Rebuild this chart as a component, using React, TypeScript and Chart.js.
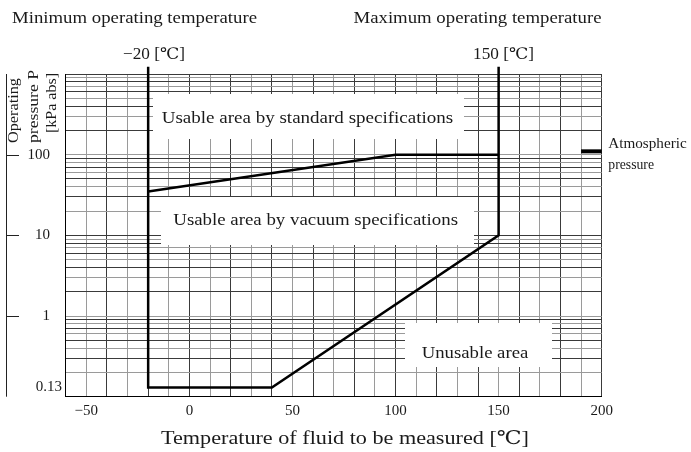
import React, { useEffect, useRef } from 'react';
import { Chart, registerables } from 'chart.js';

Chart.register(...registerables);

// ---- data ----
const xMin = -60;
const xMax = 200;
const xGridStep = 10;
const xTickLabels = [-50, 0, 50, 100, 150, 200];

const yMin = 0.1;
const yMax = 1000;
const yGridValues = [
  0.1, 0.2, 0.3, 0.4, 0.5, 0.6, 0.7, 0.8, 0.9,
  1, 2, 3, 4, 5, 6, 7, 8, 9,
  10, 20, 30, 40, 50, 60, 70, 80, 90,
  100, 200, 300, 400, 500, 600, 700, 800, 900,
  1000,
];
const yTickValues = [100, 10, 1, 0.13];
const yTickTexts = ['100', '10', '1', '0.13'];
const yAxisMarks = [100, 10, 1];

// vacuum-spec boundary: -20 line, 0.13 floor, slope to 150 / 10 kPa, 150 line
const vacuumX = [-20, -20, 40, 150, 150];
const vacuumY = [1230, 0.13, 0.13, 10, 1230];
// standard-spec boundary
const standardX = [-20, 100, 150];
const standardY = [35, 100, 100];
// atmospheric pressure marker
const atmX = [190, 200];
const atmY = [110, 110];

const SERIF = '"Liberation Serif", "DejaVu Serif", "Noto Sans CJK JP", serif';
const TEXT_COLOR = '#1a1a1a';

function pts(xs: number[], ys: number[]) {
  return xs.map((x, i) => ({ x, y: ys[i] }));
}

function drawFit(
  ctx: CanvasRenderingContext2D,
  text: string,
  x: number,
  y: number,
  w: number,
  size: number,
  rot = 0,
  center = false
) {
  ctx.save();
  ctx.font = `${size}px ${SERIF}`;
  ctx.fillStyle = TEXT_COLOR;
  ctx.textAlign = 'left';
  ctx.textBaseline = 'alphabetic';
  const m = ctx.measureText(text).width;
  ctx.translate(x, y);
  if (rot) ctx.rotate(rot);
  const sx = w > 0 ? w / m : 1;
  ctx.scale(sx, 1);
  ctx.fillText(text, center ? -m / 2 : 0, 0);
  ctx.restore();
}

const whiteBoxes = [
  { x0: 153, y0: 94, x1: 464, y1: 139 },
  { x0: 161, y0: 197, x1: 474, y1: 245 },
  { x0: 405, y0: 323, x1: 552, y1: 367 },
];

const decorPlugin = {
  id: 'decor',
  beforeDatasetsDraw(chart: any) {
    const ctx = chart.ctx as CanvasRenderingContext2D;
    ctx.save();
    ctx.fillStyle = '#ffffff';
    for (const b of whiteBoxes) ctx.fillRect(b.x0, b.y0, b.x1 - b.x0, b.y1 - b.y0);
    ctx.restore();
  },
  afterDraw(chart: any) {
    const ctx = chart.ctx as CanvasRenderingContext2D;
    const xs = chart.scales.x;
    const ys = chart.scales.y;
    const area = chart.chartArea;

    // left pressure axis line and marks
    ctx.save();
    ctx.strokeStyle = '#222';
    ctx.lineWidth = 1;
    ctx.beginPath();
    ctx.moveTo(6.5, area.top);
    ctx.lineTo(6.5, area.bottom);
    for (const v of yAxisMarks) {
      const py = Math.round(ys.getPixelForValue(v)) + 0.5;
      ctx.moveTo(6.5, py);
      ctx.lineTo(19, py);
    }
    ctx.stroke();
    ctx.restore();

    // y tick labels
    ctx.save();
    ctx.font = `15px ${SERIF}`;
    ctx.fillStyle = TEXT_COLOR;
    ctx.textAlign = 'right';
    ctx.textBaseline = 'middle';
    yTickValues.forEach((v, i) => {
      const py = ys.getPixelForValue(v);
      ctx.fillText(yTickTexts[i], v < 1 ? 62 : 50, py);
    });
    ctx.restore();

    // x tick labels
    ctx.save();
    ctx.font = `15px ${SERIF}`;
    ctx.fillStyle = TEXT_COLOR;
    ctx.textAlign = 'center';
    ctx.textBaseline = 'alphabetic';
    xTickLabels.forEach((v) => {
      const px = xs.getPixelForValue(v);
      const t = v < 0 ? '\u2212' + Math.abs(v) : String(v);
      ctx.fillText(t, px, 415);
    });
    ctx.restore();

    // titles and annotations
    drawFit(ctx, 'Minimum operating temperature', 12, 23, 245, 16);
    drawFit(ctx, 'Maximum operating temperature', 353.5, 23, 248, 16);
    drawFit(ctx, '\u221220 [\u2103]', 123, 59, 62, 16);
    drawFit(ctx, '150 [\u2103]', 473, 59, 61, 16);
    drawFit(ctx, 'Usable area by standard specifications', 161.7, 123, 291.5, 16);
    drawFit(ctx, 'Usable area by vacuum specifications', 173.3, 225, 284.7, 16);
    drawFit(ctx, 'Unusable area', 421.7, 358, 106.6, 16);
    drawFit(ctx, 'Atmospheric', 608.3, 148.3, 78.4, 15);
    drawFit(ctx, 'pressure', 608.3, 169, 45.7, 15);
    drawFit(ctx, 'Temperature of fluid to be measured [\u2103]', 345, 444, 368, 19, 0, true);

    // rotated y title
    drawFit(ctx, 'Operating', 18.3, 143, 65, 14.5, -Math.PI / 2);
    drawFit(ctx, 'pressure P', 37.7, 143, 73, 14.5, -Math.PI / 2);
    drawFit(ctx, '[kPa abs]', 55.5, 133, 60, 14.5, -Math.PI / 2);
  },
};

export default function App() {
  const ref = useRef<HTMLCanvasElement | null>(null);

  useEffect(() => {
    if (!ref.current) return;
    const gridColor = (c: any) => (c.index % 2 === 0 ? '#3a3a3a' : '#9a9a9a');
    const line = (data: any[], width: number) => ({
      data,
      borderColor: '#000',
      borderWidth: width,
      pointRadius: 0,
      fill: false,
      tension: 0,
      clip: false as any,
      borderJoinStyle: 'miter' as const,
    });
    const chart = new Chart(ref.current, {
      type: 'line',
      data: {
        datasets: [
          line(pts(vacuumX, vacuumY), 2.5),
          line(pts(standardX, standardY), 2.5),
          line(pts(atmX, atmY), 4),
        ],
      },
      options: {
        responsive: false,
        animation: false,
        events: [],
        layout: { padding: { left: 65.7, right: 89.3, top: 74, bottom: 55.3 } },
        plugins: { legend: { display: false }, tooltip: { enabled: false } },
        scales: {
          x: {
            type: 'linear',
            min: xMin,
            max: xMax,
            ticks: { display: false, stepSize: xGridStep },
            grid: { drawTicks: false, color: gridColor, lineWidth: 1 },
            border: { display: true, color: '#000', width: 1 },
          },
          y: {
            type: 'logarithmic',
            min: yMin,
            max: yMax,
            afterBuildTicks: (scale: any) => {
              scale.ticks = yGridValues.map((v) => ({ value: v }));
            },
            ticks: { display: false },
            grid: { drawTicks: false, color: gridColor, lineWidth: 1 },
            border: { display: true, color: '#000', width: 1 },
          },
        },
      },
      plugins: [decorPlugin],
    });
    return () => chart.destroy();
  }, []);

  return (
    <div style={{ position: 'fixed', left: 0, top: 0, width: 691, height: 452, background: '#fff' }}>
      <canvas ref={ref} width={691} height={452} style={{ width: 691, height: 452, display: 'block' }} />
    </div>
  );
}
